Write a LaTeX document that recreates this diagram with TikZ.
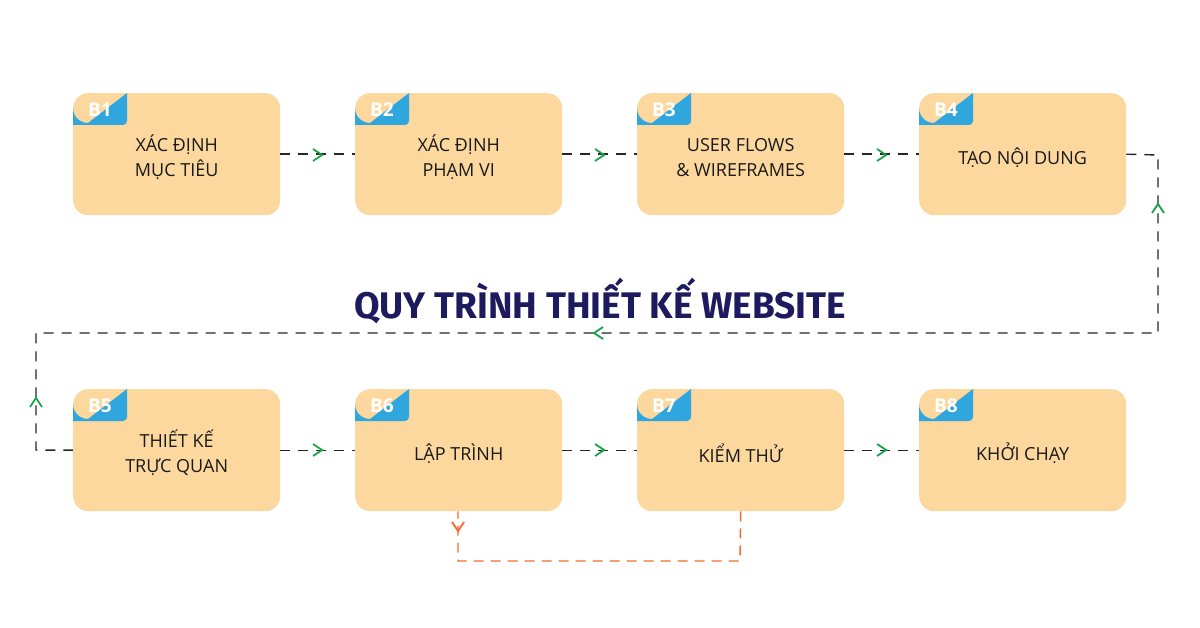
\documentclass[tikz,border=0pt]{standalone}
\usepackage{fontspec}
\setmainfont{Open Sans}
\newfontfamily\titlefont{Fira Sans}
\usetikzlibrary{calc}
\definecolor{boxc}{HTML}{FCD89E}
\definecolor{tagc}{HTML}{2FA6DE}
\definecolor{navy}{HTML}{1E1A5E}
\definecolor{grn}{HTML}{16A34A}
\definecolor{org}{HTML}{F26A2E}
\tikzset{
 stepbox/.style={fill=boxc,rounded corners=15pt,minimum width=207pt,minimum height=122pt,inner sep=0},
 link/.style={draw=black!85,line width=1.4pt,dash pattern=on 10pt off 8pt},
 olink/.style={draw=org,line width=1.4pt,dash pattern=on 10pt off 7pt},
}
\newcommand{\chev}[4]{\draw[#4,line width=1.8pt,rotate around={#3:(#1,#2)}] (#1-5,#2-6) -- (#1+4,#2) -- (#1-5,#2+6);}
\begin{document}
\begin{tikzpicture}[x=1pt,y=-1pt]
\useasboundingbox (0,0) rectangle (1200,628);
\fill[white] (0,0) rectangle (1200,628);
\foreach \n/\x/\y/\t in {1/73/93/{XÁC ĐỊNH\\MỤC TIÊU},2/355/93/{XÁC ĐỊNH\\PHẠM VI},3/637/93/{USER FLOWS\\\& WIREFRAMES},4/919/93/{TẠO NỘI DUNG},5/73/389/{THIẾT KẾ\\TRỰC QUAN},6/355/389/{LẬP TRÌNH},7/637/389/{KIỂM THỬ},8/919/389/{KHỞI CHẠY}}{
 \node[stepbox,anchor=north west] (b\n) at (\x,\y) {};
 \node[align=center,font=\fontsize{18}{25}\selectfont,text=black!90] (l\n) at ($(b\n.center)+(0,3)$) {\t};
 \fill[tagc] (\x,\y+32) -- (\x,\y+15) arc[start angle=180,end angle=90,radius=15] -- (\x+54,\y) -- (\x+54,\y+28) arc[start angle=0,end angle=90,radius=4] -- cycle;
 \node[font=\bfseries\fontsize{19}{19}\selectfont,text=white] (t\n) at (\x+27,\y+17) {B\n};
}
\node[font=\titlefont\bfseries\fontsize{37}{37}\selectfont,text=navy] (title) at (600,301) {QUY TRÌNH THIẾT KẾ WEBSITE};
\foreach \a/\b in {1/2,2/3,3/4,5/6,6/7,7/8}{\draw[link] (b\a.east) -- (b\b.west);}
\coordinate (c1) at (1158,155); \coordinate (c2) at (1158,333);
\coordinate (c3) at (36,333); \coordinate (c4) at (36,450);
\draw[link] (b4.east) -- (c1) -- (c2) -- (c3) -- (c4) -- (b5.west);
\coordinate (o1) at (740,561); \coordinate (o2) at (458,561);
\draw[olink] (b7.south) -- (o1) -- (o2) -- (b6.south -| o2);
\foreach \x in {318,600,882}{\chev{\x}{155}{0}{grn}\chev{\x}{450}{0}{grn}}
\chev{1158}{208}{90}{grn}
\chev{598}{333}{180}{grn}
\chev{36}{402}{90}{grn}
\chev{458}{527}{-90}{org}
\end{tikzpicture}
\end{document}
